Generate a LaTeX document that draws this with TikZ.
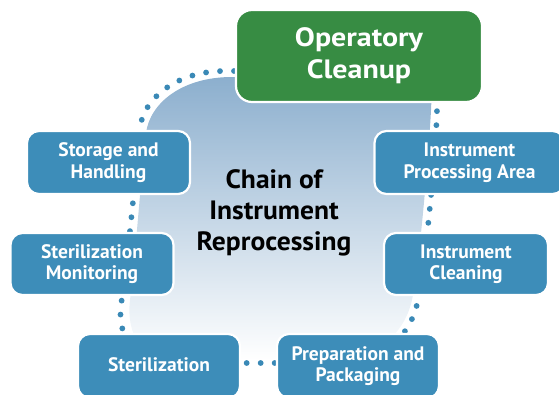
\documentclass[tikz,border=0pt]{standalone}
\usepackage{fontspec}
\setmainfont{PT Sans}
\definecolor{boxblue}{HTML}{3D8DB9}
\definecolor{ocgreen}{HTML}{378C43}
\definecolor{dotblue}{HTML}{3A89B6}
\definecolor{blobtop}{HTML}{8CAFCE}
\definecolor{blobmid}{HTML}{AFC7DC}
\tikzset{
  stepbox/.style={rectangle, rounded corners=12pt, fill=boxblue, draw=white, line width=2.2pt,
    text=white, font=\fontsize{19.5}{21.5}\selectfont\bfseries, align=center, inner sep=0pt},
  greenbox/.style={stepbox, fill=ocgreen, rounded corners=16pt,
    font=\fontsize{26.5}{32}\selectfont\bfseries\addfontfeature{FakeStretch=1.13}},
  dotline/.style={draw=dotblue, line width=5.8pt, line cap=round, dash pattern=on 0pt off 14pt},
  centertext/.style={font=\fontsize{26.5}{31}\selectfont\bfseries\addfontfeature{FakeStretch=1.04}, align=center, inner sep=0pt},
}
\begin{document}
\begin{tikzpicture}[x=1pt,y=-1pt]
\useasboundingbox (0,0) rectangle (559,394);
\clip (0,0) rectangle (559,394);
% central blob
\path[top color=blobtop, middle color=blobmid, bottom color=white]
  (420,77) -- (232,77) .. controls (182,77) and (150,103) .. (146,133)
  .. controls (142,165) and (136,250) .. (130,300)
  .. controls (126,335) and (142,360) .. (175,360) -- (330,360)
  .. controls (375,360) and (404,335) .. (412,300)
  .. controls (420,260) and (429,150) .. (431,110)
  .. controls (432,90) and (432,77) .. (420,77) -- cycle;
% dotted outline
\path[dotline]
  (430,71) -- (225,71) .. controls (175,71) and (143,100) .. (140,128)
  .. controls (137,160) and (129,250) .. (121,305)
  .. controls (117,340) and (137,363) .. (175,363) -- (330,363)
  .. controls (380,363) and (410,340) .. (418,300)
  .. controls (426,260) and (436,150) .. (437,110)
  .. controls (438,90) and (438,71) .. (430,71) -- cycle;
\node[centertext] (chain) at (274,213) {Chain of\\Instrument\\Reprocessing};
% boxes
\node[greenbox, minimum width=246pt, minimum height=92pt] (oc) at (359,56) {Operatory\\Cleanup};
\node[stepbox, minimum width=163pt, minimum height=63pt] (sh) at (108.5,162.5) {Storage and\\Handling};
\node[stepbox, minimum width=190pt, minimum height=63pt] (ipa) at (469.5,162.5) {Instrument\\Processing Area};
\node[stepbox, minimum width=163pt, minimum height=62pt] (sm) at (92,264) {Sterilization\\Monitoring};
\node[stepbox, minimum width=164pt, minimum height=62pt] (ic) at (466,264) {Instrument\\Cleaning};
\node[stepbox, minimum width=162pt, minimum height=64pt] (s) at (159,366) {\raisebox{3pt}{Sterilization}};
\node[stepbox, minimum width=162pt, minimum height=64pt] (pp) at (358,366) {\raisebox{3pt}{\shortstack{Preparation and\\Packaging}}};
\end{tikzpicture}
\end{document}
